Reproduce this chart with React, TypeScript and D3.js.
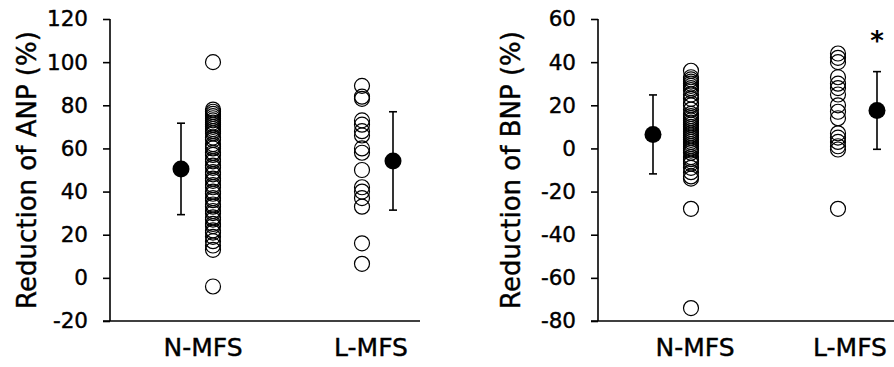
import { useRef, useEffect } from 'react';
import * as d3 from 'd3';

const categories = ['N-MFS', 'L-MFS'];

// individual values
const anpNormal = [100, 78, 77, 76, 75, 74, 73, 72, 71, 70, 69, 68, 67, 65, 64, 62, 61, 60, 58, 57, 55, 54, 52, 51, 49, 48, 46, 45, 43, 42, 40, 39, 37, 36, 34, 33, 31, 30, 28, 27, 25, 24, 22, 21, 19, 17, 15, 13, -4];
const anpLow = [89, 84, 83, 73, 71, 68, 66, 60, 58, 50, 42, 40, 37, 33, 16, 6.5];
const bnpNormal = [36, 33, 32, 31, 30, 29, 28, 27, 25, 23, 21, 20, 18, 16, 15, 14, 13, 12, 11, 10, 9, 8, 7, 6, 5, 4, 3, 2, 1, 0, -1, -2, -4, -5, -6, -7, -9, -11, -13, -14, -28, -74];
const bnpLow = [44, 42, 40, 33, 30, 28, 25, 20, 17, 14, 7, 5, 3, 1, -0.5, -28];

// mean ± SD
const anpMean = [50.5, 54.2];
const anpSd = [21.2, 22.8];
const bnpMean = [6.5, 17.6];
const bnpSd = [18.3, 18.0];

const anpTicks = [-20, 0, 20, 40, 60, 80, 100, 120];
const bnpTicks = [-80, -60, -40, -20, 0, 20, 40, 60];

const FONT = '"DejaVu Sans", Verdana, sans-serif';

interface PanelSpec {
  values: number[][];
  mean: number[];
  sd: number[];
  ticks: number[];
  title: string;
  axisX: number;
  axisEnd: number;
  catRange: [number, number];
  meanOffset: number[];
  labelOffset: number[];
  titleX: number;
  star?: boolean;
}

const panels: PanelSpec[] = [
  {
    values: [anpNormal, anpLow], mean: anpMean, sd: anpSd, ticks: anpTicks,
    title: 'Reduction of ANP (%)', axisX: 110, axisEnd: 420, catRange: [213, 362],
    meanOffset: [-32, 31], labelOffset: [-10, 9], titleX: 27,
  },
  {
    values: [bnpNormal, bnpLow], mean: bnpMean, sd: bnpSd, ticks: bnpTicks,
    title: 'Reduction of BNP (%)', axisX: 598, axisEnd: 894, catRange: [691, 838],
    meanOffset: [-38, 39], labelOffset: [4, 12], titleX: 511, star: true,
  },
];

export default function App() {
  const svgRef = useRef<SVGSVGElement>(null);

  useEffect(() => {
    if (!svgRef.current) return;
    const svg = d3.select(svgRef.current);
    svg.selectAll('*').remove();

    const top = 19;
    const bottom = 321;

    panels.forEach(p => {
      const g = svg.append('g');
      const y = d3.scaleLinear()
        .domain([p.ticks[0], p.ticks[p.ticks.length - 1]])
        .range([bottom, top]);
      const x = d3.scalePoint<string>().domain(categories).range(p.catRange);

      // Y axis
      const yAxis = d3.axisLeft(y).tickValues(p.ticks).tickSize(7).tickPadding(15).tickFormat(d => `${d}`);
      const ya = g.append('g')
        .attr('transform', `translate(${p.axisX},0)`)
        .call(yAxis);
      ya.select('.domain').attr('d', `M0,${top}V${bottom}`).attr('stroke', '#000').attr('stroke-width', 1.6);
      ya.selectAll('.tick line').attr('stroke', '#000').attr('stroke-width', 1.6);
      ya.selectAll('.tick text')
        .attr('fill', '#000')
        .attr('stroke', '#000')
        .attr('stroke-width', 0.4)
        .style('font-family', FONT)
        .style('font-size', '21.5px');

      // X axis baseline
      g.append('line')
        .attr('x1', p.axisX - 7)
        .attr('x2', p.axisEnd)
        .attr('y1', bottom)
        .attr('y2', bottom)
        .attr('stroke', '#000')
        .attr('stroke-width', 1.6);

      // category labels
      categories.forEach((c, i) => {
        g.append('text')
          .attr('x', x(c)! + p.labelOffset[i])
          .attr('y', 356)
          .attr('text-anchor', 'middle')
          .attr('stroke', '#000')
          .attr('stroke-width', 0.4)
          .style('font-family', FONT)
          .style('font-size', '25px')
          .text(c);
      });

      // axis title
      g.append('text')
        .attr('transform', `translate(${p.titleX},${(top + bottom) / 2}) rotate(-90)`)
        .attr('text-anchor', 'middle')
        .attr('dominant-baseline', 'central')
        .attr('stroke', '#000')
        .attr('stroke-width', 0.4)
        .style('font-family', FONT)
        .style('font-size', '26px')
        .text(p.title);

      // individual points
      categories.forEach((c, i) => {
        g.selectAll(null)
          .data(p.values[i])
          .enter()
          .append('circle')
          .attr('cx', x(c)!)
          .attr('cy', d => y(d))
          .attr('r', 7.5)
          .attr('fill', 'none')
          .attr('stroke', '#000')
          .attr('stroke-width', 1.2);

        // mean ± SD
        const mx = x(c)! + p.meanOffset[i];
        const hi = y(p.mean[i] + p.sd[i]);
        const lo = y(p.mean[i] - p.sd[i]);
        g.append('line').attr('x1', mx).attr('x2', mx).attr('y1', hi).attr('y2', lo)
          .attr('stroke', '#000').attr('stroke-width', 1.6);
        [hi, lo].forEach(yy => {
          g.append('line').attr('x1', mx - 4).attr('x2', mx + 4).attr('y1', yy).attr('y2', yy)
            .attr('stroke', '#000').attr('stroke-width', 1.6);
        });
        g.append('circle')
          .attr('cx', mx)
          .attr('cy', y(p.mean[i]))
          .attr('r', 8.5)
          .attr('fill', '#000');

        if (p.star && i === 1) {
          g.append('text')
            .attr('x', mx)
            .attr('y', hi - 22)
            .attr('text-anchor', 'middle')
            .style('font-family', FONT)
            .style('font-size', '26px')
            .style('font-weight', 'bold')
            .text('*');
        }
      });
    });
  }, []);

  return (
    <svg
      ref={svgRef}
      width={894}
      height={367}
      style={{ position: 'absolute', left: 0, top: 0, background: '#fff' }}
    />
  );
}
